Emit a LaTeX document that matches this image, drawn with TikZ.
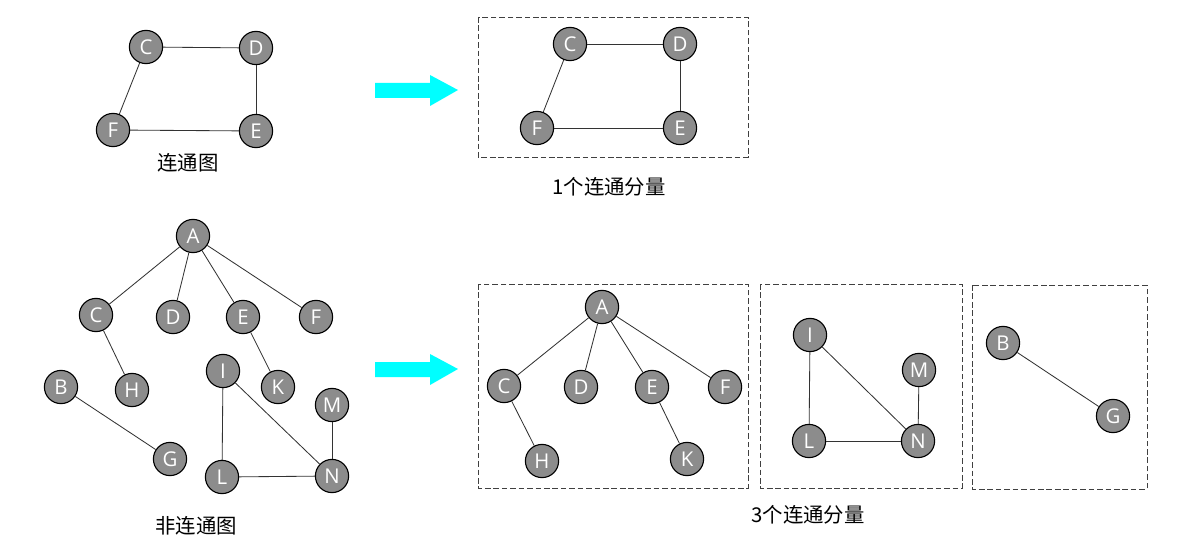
\documentclass[tikz,border=0pt]{standalone}
\usepackage{fontspec}
\setmainfont{Open Sans}
\newfontfamily\cjk{Noto Sans CJK SC}
\definecolor{nodegray}{HTML}{8C8C8C}
\definecolor{arrowcyan}{HTML}{00FFFF}

\begin{document}
\begin{tikzpicture}[x=0.025cm, y=-0.025cm,
  main/.style = {draw, circle, fill=nodegray, text=white, line width=0.8pt,
                 minimum size=0.83cm, inner sep=0pt, font=\fontsize{14.5}{14.5}\selectfont},
  edge/.style = {draw=black!80, line width=0.6pt},
  part/.style = {draw=black!75, dash pattern=on 4pt off 2pt, line width=0.6pt},
  caption/.style = {font=\cjk\fontsize{14.5}{15}\selectfont},
  fat/.style = {fill=arrowcyan}]
\useasboundingbox (0,0) rectangle (1200,550);

% connected graph
\node[main] (c1) at (146,47) {C};
\node[main] (d1) at (256,48) {D};
\node[main] (f1) at (113,130) {F};
\node[main] (e1) at (256,131) {E};
\draw[edge] (c1) -- (d1);
\draw[edge] (d1) -- (e1);
\draw[edge] (e1) -- (f1);
\draw[edge] (f1) -- (c1);
\node[caption] (t1) at (188,163) {连通图};

% arrow 1
\fill[fat] (375,83) -- (430,83) -- (430,75) -- (458,90) -- (430,106) -- (430,98) -- (375,98) -- cycle;

% one component
\draw[part] (478,17) rectangle (748,157);
\node[main] (c2) at (570,44) {C};
\node[main] (d2) at (680,44) {D};
\node[main] (f2) at (537,128) {F};
\node[main] (e2) at (680,128) {E};
\draw[edge] (c2) -- (d2);
\draw[edge] (d2) -- (e2);
\draw[edge] (e2) -- (f2);
\draw[edge] (f2) -- (c2);
\node[caption] (t2) at (609,187) {1个连通分量};

% disconnected graph
\node[main] (a3) at (193,236) {A};
\node[main] (c3) at (96,315) {C};
\node[main] (d3) at (173,317) {D};
\node[main] (e3) at (243,317) {E};
\node[main] (f3) at (316,317) {F};
\node[main] (b3) at (61,387) {B};
\node[main] (h3) at (132,390) {H};
\node[main] (i3) at (223,371) {I};
\node[main] (k3) at (278,387) {K};
\node[main] (m3) at (332,405) {M};
\node[main] (g3) at (170,459) {G};
\node[main] (l3) at (222,477) {L};
\node[main] (n3) at (332,476) {N};
\draw[edge] (a3) -- (c3);
\draw[edge] (a3) -- (d3);
\draw[edge] (a3) -- (e3);
\draw[edge] (a3) -- (f3);
\draw[edge] (c3) -- (h3);
\draw[edge] (e3) -- (k3);
\draw[edge] (b3) -- (g3);
\draw[edge] (i3) -- (l3);
\draw[edge] (i3) -- (n3);
\draw[edge] (l3) -- (n3);
\draw[edge] (m3) -- (n3);
\node[caption] (t3) at (196,526) {非连通图};

% arrow 2
\fill[fat] (375,362) -- (430,362) -- (430,354) -- (458,369) -- (430,385) -- (430,377) -- (375,377) -- cycle;

% three components
\draw[part] (478,284) rectangle (748,488);
\draw[part] (760,284) rectangle (962,488);
\draw[part] (972,285) rectangle (1147,489);
\node[main] (a4) at (602,307) {A};
\node[main] (c4) at (504,386) {C};
\node[main] (d4) at (581,387) {D};
\node[main] (e4) at (652,387) {E};
\node[main] (f4) at (725,387) {F};
\node[main] (h4) at (542,461) {H};
\node[main] (k4) at (687,459) {K};
\draw[edge] (a4) -- (c4);
\draw[edge] (a4) -- (d4);
\draw[edge] (a4) -- (e4);
\draw[edge] (a4) -- (f4);
\draw[edge] (c4) -- (h4);
\draw[edge] (e4) -- (k4);
\node[main] (i5) at (810,335) {I};
\node[main] (m5) at (919,370) {M};
\node[main] (l5) at (809,441) {L};
\node[main] (n5) at (918,441) {N};
\draw[edge] (i5) -- (l5);
\draw[edge] (i5) -- (n5);
\draw[edge] (l5) -- (n5);
\draw[edge] (m5) -- (n5);
\node[main] (b6) at (1003,343) {B};
\node[main] (g6) at (1113,416) {G};
\draw[edge] (b6) -- (g6);
\node[caption] (t4) at (808,515) {3个连通分量};
\end{tikzpicture}
\end{document}
